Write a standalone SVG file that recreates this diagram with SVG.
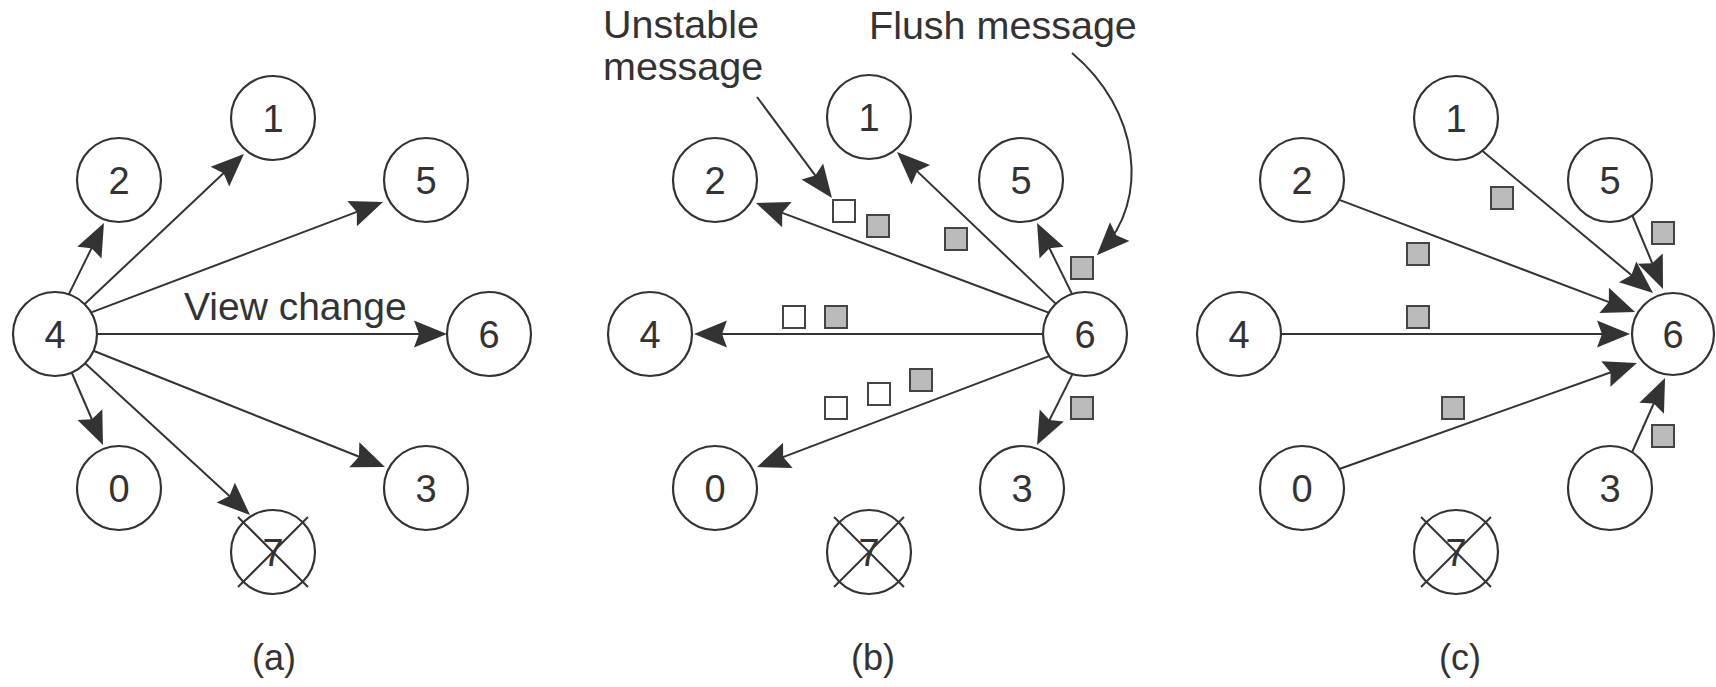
<svg xmlns="http://www.w3.org/2000/svg" width="1716" height="687" viewBox="0 0 1716 687">
<style>
.n circle{fill:#fff;stroke:#333;stroke-width:2.2}
.n line{stroke:#333;stroke-width:2}
.t{font-family:"Liberation Sans",Arial,sans-serif;font-size:38px;fill:#333}
.n text{text-anchor:middle}
.c{stroke:#333;stroke-width:2;fill:none;marker-end:url(#ah)}
.sq{stroke:#444;stroke-width:2}
.g{fill:#bbb}
.w{fill:#fff}
</style>
<defs>
<marker id="ah" markerUnits="userSpaceOnUse" viewBox="-36 -15 38 30" refX="-6" refY="0" markerWidth="38" markerHeight="30" orient="auto">
<path d="M0,0 L-33,-13.5 L-28,0 L-33,13.5 Z" fill="#333"/>
</marker>
</defs>
<rect width="1716" height="687" fill="#fff"/>
<g id="connectors">
<!-- panel a -->
<line class="c" x1="67.3" y1="297.4" x2="101.3" y2="228.4"/>
<line class="c" x1="82.6" y1="306.1" x2="239.6" y2="158.1"/>
<line class="c" x1="89.4" y1="313.1" x2="377.4" y2="204.1"/>
<line class="c" x1="92" y1="334" x2="441" y2="334"/>
<line class="c" x1="69.3" y1="367" x2="100.6" y2="439.5"/>
<line class="c" x1="82.6" y1="360.9" x2="245.6" y2="510.9"/>
<line class="c" x1="88.4" y1="348.8" x2="379.4" y2="464.8"/>
<!-- panel b -->
<line class="c" x1="1059.3" y1="307.1" x2="901.3" y2="156.1"/>
<line class="c" x1="1052.6" y1="314.1" x2="761.6" y2="205.1"/>
<line class="c" x1="1073.7" y1="297.4" x2="1039.7" y2="228.4"/>
<line class="c" x1="1049" y1="334" x2="700" y2="334"/>
<line class="c" x1="1052.6" y1="354.9" x2="762.6" y2="464.9"/>
<line class="c" x1="1073.7" y1="371.6" x2="1039.7" y2="439.6"/>
<line class="c" x1="757" y1="97" x2="828.4" y2="193.2"/>
<path class="c" d="M1072,53 C1140,110 1150,200 1101,251"/>
<!-- panel c -->
<line class="c" x1="1480.4" y1="149.2" x2="1648.4" y2="289.2"/>
<line class="c" x1="1339.4" y1="199.9" x2="1629.4" y2="309.9"/>
<line class="c" x1="1630.7" y1="211.5" x2="1660.7" y2="283.5"/>
<line class="c" x1="1276" y1="334" x2="1624" y2="334"/>
<line class="c" x1="1339.3" y1="469" x2="1631.3" y2="365"/>
<line class="c" x1="1630.6" y1="455.5" x2="1662.6" y2="383.5"/>
</g>
<!-- panel a nodes -->
<g id="a4" class="n"><circle cx="55" cy="334" r="42"/><text class="t" x="55" y="348">4</text></g>
<g id="a2" class="n"><circle cx="119" cy="180" r="42"/><text class="t" x="119" y="194">2</text></g>
<g id="a1" class="n"><circle cx="273" cy="118" r="42"/><text class="t" x="273" y="132">1</text></g>
<g id="a5" class="n"><circle cx="426" cy="180" r="42"/><text class="t" x="426" y="194">5</text></g>
<g id="a6" class="n"><circle cx="489" cy="334" r="42"/><text class="t" x="489" y="348">6</text></g>
<g id="a0" class="n"><circle cx="119" cy="488" r="42"/><text class="t" x="119" y="502">0</text></g>
<g id="a3" class="n"><circle cx="426" cy="488" r="42"/><text class="t" x="426" y="502">3</text></g>
<g id="a7" class="n"><circle cx="273" cy="552" r="42"/><text class="t" x="273" y="566">7</text><line x1="238" y1="517" x2="308" y2="587"/><line x1="308" y1="517" x2="238" y2="587"/></g>
<!-- panel b nodes -->
<g id="b4" class="n"><circle cx="650" cy="334" r="42"/><text class="t" x="650" y="348">4</text></g>
<g id="b2" class="n"><circle cx="715" cy="180" r="42"/><text class="t" x="715" y="194">2</text></g>
<g id="b1" class="n"><circle cx="869" cy="117" r="42"/><text class="t" x="869" y="131">1</text></g>
<g id="b5" class="n"><circle cx="1021" cy="180" r="42"/><text class="t" x="1021" y="194">5</text></g>
<g id="b6" class="n"><circle cx="1085" cy="334" r="42"/><text class="t" x="1085" y="348">6</text></g>
<g id="b0" class="n"><circle cx="715" cy="488" r="42"/><text class="t" x="715" y="502">0</text></g>
<g id="b3" class="n"><circle cx="1022" cy="488" r="42"/><text class="t" x="1022" y="502">3</text></g>
<g id="b7" class="n"><circle cx="869" cy="552" r="42"/><text class="t" x="869" y="566">7</text><line x1="834" y1="517" x2="904" y2="587"/><line x1="904" y1="517" x2="834" y2="587"/></g>
<!-- panel c nodes -->
<g id="c4" class="n"><circle cx="1239" cy="334" r="42"/><text class="t" x="1239" y="348">4</text></g>
<g id="c2" class="n"><circle cx="1302" cy="180" r="42"/><text class="t" x="1302" y="194">2</text></g>
<g id="c1" class="n"><circle cx="1456" cy="118" r="42"/><text class="t" x="1456" y="132">1</text></g>
<g id="c5" class="n"><circle cx="1610" cy="180" r="42"/><text class="t" x="1610" y="194">5</text></g>
<g id="c6" class="n"><circle cx="1673" cy="334" r="41"/><text class="t" x="1673" y="348">6</text></g>
<g id="c0" class="n"><circle cx="1302" cy="488" r="42"/><text class="t" x="1302" y="502">0</text></g>
<g id="c3" class="n"><circle cx="1610" cy="488" r="42"/><text class="t" x="1610" y="502">3</text></g>
<g id="c7" class="n"><circle cx="1456" cy="552" r="42"/><text class="t" x="1456" y="566">7</text><line x1="1421" y1="517" x2="1491" y2="587"/><line x1="1491" y1="517" x2="1421" y2="587"/></g>
<!-- messages -->
<g id="messages" class="sq">
<rect class="w" x="833" y="200" width="22" height="22"/>
<rect class="g" x="867" y="215" width="22" height="22"/>
<rect class="g" x="945" y="228" width="22" height="22"/>
<rect class="g" x="1071" y="257" width="22" height="22"/>
<rect class="w" x="783" y="306" width="22" height="22"/>
<rect class="g" x="825" y="306" width="22" height="22"/>
<rect class="w" x="825" y="397" width="22" height="22"/>
<rect class="w" x="868" y="383" width="22" height="22"/>
<rect class="g" x="910" y="369" width="22" height="22"/>
<rect class="g" x="1071" y="397" width="22" height="22"/>
<rect class="g" x="1491" y="187" width="22" height="22"/>
<rect class="g" x="1652" y="222" width="22" height="22"/>
<rect class="g" x="1407" y="243" width="22" height="22"/>
<rect class="g" x="1407" y="306" width="22" height="22"/>
<rect class="g" x="1442" y="397" width="22" height="22"/>
<rect class="g" x="1652" y="425" width="22" height="22"/>
</g>
<g id="labels">
<text class="t" x="184" y="320" style="font-size:39px">View change</text>
<text class="t" x="603" y="38" style="font-size:39.5px">Unstable</text>
<text class="t" x="603" y="80" style="font-size:39.5px">message</text>
<text class="t" x="869" y="39" style="font-size:39.5px">Flush message</text>
<text class="t" x="274" y="670" text-anchor="middle" style="font-size:36px">(a)</text>
<text class="t" x="873" y="670" text-anchor="middle" style="font-size:36px">(b)</text>
<text class="t" x="1460" y="670" text-anchor="middle" style="font-size:36px">(c)</text>
</g>
</svg>
